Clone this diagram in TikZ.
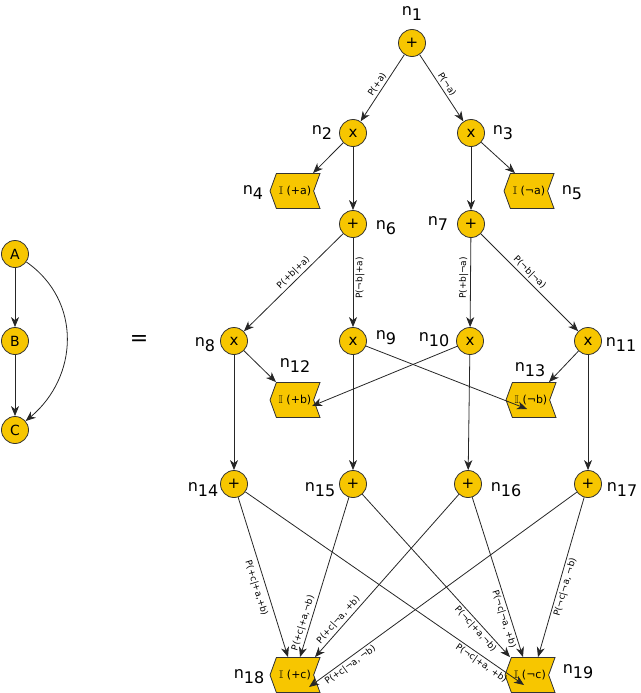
\documentclass[tikz,border=0pt]{standalone}
\usepackage{fontspec}
\usepackage{amssymb}
\setmainfont{DejaVu Sans}
\usetikzlibrary{shapes.symbols,arrows.meta}
\definecolor{gold}{HTML}{F7C600}
\newcommand\nsub[1]{n\raisebox{-5pt}{#1}}
\begin{document}
\begin{tikzpicture}[x=1pt,y=-1pt,
  op/.style={circle,draw=black!80,fill=gold,line width=0.8pt,minimum size=27pt,inner sep=0pt,font=\fontsize{15}{15}\selectfont},
  ind/.style={signal,signal to=west,signal from=east,signal pointer angle=140,draw=black!80,fill=gold,line width=0.8pt,minimum width=50pt,minimum height=35pt,inner sep=1pt,font=\fontsize{11}{11}\selectfont},
  var/.style={circle,draw=black!80,fill=gold,line width=0.8pt,minimum size=27pt,inner sep=0pt,font=\fontsize{14}{14}\selectfont},
  lab/.style={font=\fontsize{16}{16}\selectfont,inner sep=0pt},
  e/.style={draw=black!85,line width=0.8pt,-{Stealth[length=10pt,width=8pt,inset=3pt]}},
  el/.style={font=\fontsize{9}{9}\selectfont,sloped,inner sep=2pt}]
\useasboundingbox (0,0) rectangle (640,693);
% left graph
\node[var] (A) at (15,254) {A};
\node[var] (B) at (15,341) {B};
\node[var] (C) at (15,430) {C};
\draw[e] (A) -- (B);
\draw[e] (B) -- (C);
\draw[e] (A) to[out=-35,in=40,looseness=1.1] (C);
\node[font=\fontsize{22}{22}\selectfont] (eq) at (139,341) {=};
% nodes
\node[op] (n1) at (412,43) {+};
\node[op] (n2) at (353,133) {x};
\node[op] (n3) at (471,133) {x};
\node[ind] (n4) at (295,191) {$\mathbb{I}$ (+a)};
\node[ind] (n5) at (529,191) {$\mathbb{I}$ (¬a)};
\node[op] (n6) at (353,224) {+};
\node[op] (n7) at (471,224) {+};
\node[op] (n8) at (234,341) {x};
\node[op] (n9) at (353,341) {x};
\node[op] (n10) at (470,341) {x};
\node[op] (n11) at (588,341) {x};
\node[ind] (n12) at (295,400) {$\mathbb{I}$ (+b)};
\node[ind] (n13) at (531,400) {$\mathbb{I}$ (¬b)};
\node[op] (n14) at (234,484) {+};
\node[op] (n15) at (353,484) {+};
\node[op] (n16) at (468,484) {+};
\node[op] (n17) at (588,484) {+};
\node[ind] (n18) at (295,675) {$\mathbb{I}$ (+c)};
\node[ind] (n19) at (530,675) {$\mathbb{I}$ (¬c)};
% labels
\node[lab] (l1) at (412,14) {\nsub{1}};
\node[lab] (l2) at (322,133) {\nsub{2}};
\node[lab] (l3) at (503,133) {\nsub{3}};
\node[lab] (l4) at (253,193) {\nsub{4}};
\node[lab] (l5) at (572,193) {\nsub{5}};
\node[lab] (l6) at (386,228) {\nsub{6}};
\node[lab] (l7) at (438,224) {\nsub{7}};
\node[lab] (l8) at (205,345) {\nsub{8}};
\node[lab] (l9) at (386,338) {\nsub{9}};
\node[lab] (l10) at (434,340) {\nsub{10}};
\node[lab] (l11) at (621,345) {\nsub{11}};
\node[lab] (l12) at (295,366) {\nsub{12}};
\node[lab] (l13) at (530,370) {\nsub{13}};
\node[lab] (l14) at (203,490) {\nsub{14}};
\node[lab] (l15) at (320,490) {\nsub{15}};
\node[lab] (l16) at (506,490) {\nsub{16}};
\node[lab] (l17) at (622,490) {\nsub{17}};
\node[lab] (l18) at (249,677) {\nsub{18}};
\node[lab] (l19) at (578,672) {\nsub{19}};
% edges
\draw[e] (n1) -- node[el,above] {P(+a)} (n2);
\draw[e] (n1) -- node[el,above] {P(¬a)} (n3);
\draw[e] (n2) -- ([xshift=18]n4.north);
\draw[e] (n2) -- (n6);
\draw[e] (n3) -- ([xshift=-14]n5.north);
\draw[e] (n3) -- (n7);
\draw[e] (n6) -- node[el,above,pos=0.45] {P(+b|+a)} (n8);
\draw[e] (n6) -- node[el,below,pos=0.45,allow upside down,rotate=180] {P(¬b|+a)} (n9);
\draw[e] (n7) -- node[el,above,pos=0.45,allow upside down,rotate=180] {P(+b|¬a)} (n10);
\draw[e] (n7) -- node[el,above,pos=0.45] {P(¬b|¬a)} (n11);
\draw[e] (n8) -- ([xshift=-19]n12.north);
\draw[e] (n8) -- (n14);
\draw[e] (n9) -- ([xshift=-23,yshift=-9]n13.east);
\draw[e] (n9) -- (n15);
\draw[e] (n10) -- ([xshift=-2,yshift=-6]n12.east);
\draw[e] (n10) -- (n16);
\draw[e] (n11) -- ([xshift=18]n13.north);
\draw[e] (n11) -- (n17);
\draw[e] (n14) -- node[el,below=3pt,pos=0.55] {P(+c|+a,+b)} ([xshift=-7]n18.north);
\draw[e] (n15) -- node[el,above,pos=0.8] {P(+c|+a,¬b)} ([xshift=5]n18.north);
\draw[e] (n16) -- node[el,above,pos=0.8] {P(+c|¬a, +b)} ([xshift=20]n18.north);
\draw[e] (n17) -- node[el,below,pos=0.86] {P(+c|¬a, ¬b)} ([xshift=-5,yshift=-12]n18.east);
\draw[e] (n14) -- node[el,below,pos=0.86] {P(¬c|+a, +b)} ([xshift=-25,yshift=-10]n19.east);
\draw[e] (n15) -- node[el,below,pos=0.8] {P(¬c|+a,¬b)} ([xshift=-20]n19.north);
\draw[e] (n16) -- node[el,below,pos=0.75] {P(¬c|¬a, +b)} ([xshift=-7]n19.north);
\draw[e] (n17) -- node[el,below,pos=0.55] {P(¬c|¬a, ¬b)} ([xshift=8]n19.north);
\end{tikzpicture}
\end{document}
